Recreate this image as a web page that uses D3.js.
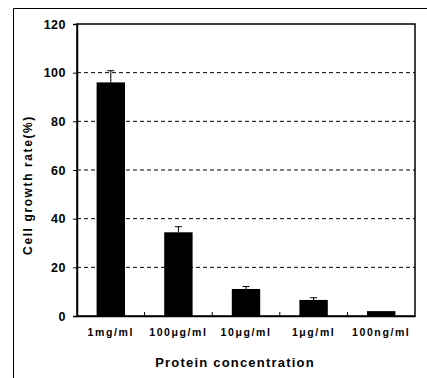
<!DOCTYPE html>
<html>
<head>
<meta charset="utf-8">
<script src="https://cdn.jsdelivr.net/npm/d3@7"></script>
<style>
  body { margin: 0; background: #fff; overflow: hidden; }
  svg { display: block; }
  svg text { font-family: "Liberation Sans", Arial, sans-serif; font-weight: bold; fill: #000; }
</style>
</head>
<body>
<div id="chart"></div>
<script>
// data
const categories = ["1mg/ml", "100\u03bcg/ml", "10\u03bcg/ml", "1\u03bcg/ml", "100ng/ml"];
const growthRate = [96.0, 34.4, 11.1, 6.6, 2.0];
const errors = [4.8, 2.3, 1.0, 0.9, 0];
const yTicks = [0, 20, 40, 60, 80, 100, 120];

const W = 427, H = 378;
const margin = { top: 24, right: 12, bottom: 62, left: 77 };
const width = W - margin.left - margin.right;
const height = H - margin.top - margin.bottom;

const svg = d3.select("#chart").append("svg")
    .attr("width", W)
    .attr("height", H);

// outer frame (left + top only visible)
svg.append("path")
    .attr("d", "M13.5," + H + "V8.5H" + W)
    .attr("fill", "none").attr("stroke", "#000").attr("stroke-width", 1);

const g = svg.append("g")
    .attr("transform", "translate(" + margin.left + "," + margin.top + ")");

const x = d3.scaleBand()
    .domain(categories)
    .range([0, width])
    .paddingInner(0.58)
    .paddingOuter(0.29);

const y = d3.scaleLinear()
    .domain([0, 120])
    .range([height, 0]);

// dashed grid lines
g.selectAll("line.grid")
    .data(yTicks.filter(d => d > 0 && d < 120))
    .enter().append("line")
    .attr("class", "grid")
    .attr("x1", 0).attr("x2", width)
    .attr("y1", d => y(d)).attr("y2", d => y(d))
    .attr("stroke", "#000")
    .attr("stroke-width", 1)
    .attr("stroke-dasharray", "4,3");

// plot frame (top + right)
g.append("rect")
    .attr("x", 0).attr("y", 0)
    .attr("width", width).attr("height", height)
    .attr("fill", "none").attr("stroke", "#000").attr("stroke-width", 1.5);

// bars
g.selectAll("rect.bar")
    .data(growthRate)
    .enter().append("rect")
    .attr("class", "bar")
    .attr("x", (d, i) => x(categories[i]))
    .attr("width", x.bandwidth())
    .attr("y", d => y(d))
    .attr("height", d => height - y(d))
    .attr("fill", "#000");

// error bars (upper only)
const eb = g.selectAll("g.err")
    .data(growthRate.map((d, i) => ({ v: d, e: errors[i], c: categories[i] })).filter(d => d.e > 0))
    .enter().append("g").attr("class", "err");
eb.append("line")
    .attr("x1", d => x(d.c) + x.bandwidth() / 2)
    .attr("x2", d => x(d.c) + x.bandwidth() / 2)
    .attr("y1", d => y(d.v))
    .attr("y2", d => y(d.v + d.e))
    .attr("stroke", "#000").attr("stroke-width", 1);
eb.append("line")
    .attr("x1", d => x(d.c) + x.bandwidth() / 2 - 3.5)
    .attr("x2", d => x(d.c) + x.bandwidth() / 2 + 3.5)
    .attr("y1", d => y(d.v + d.e))
    .attr("y2", d => y(d.v + d.e))
    .attr("stroke", "#000").attr("stroke-width", 1);

// y axis
const yAxis = g.append("g")
    .call(d3.axisLeft(y).tickValues(yTicks).tickSize(4).tickPadding(7));
yAxis.select(".domain").attr("stroke-width", 1.5);
yAxis.selectAll("text").style("font-size", "12.5px").style("letter-spacing", "0.5px");

// x axis: small inward ticks at band boundaries
const xAxis = g.append("g")
    .attr("transform", "translate(0," + height + ")")
    .call(d3.axisBottom(x).tickSize(0).tickPadding(13));
xAxis.select(".domain").attr("stroke-width", 1.5);
xAxis.selectAll("text")
    .style("font-size", "10.5px")
    .style("letter-spacing", "1.6px");

g.selectAll("line.sep")
    .data(categories.slice(1))
    .enter().append("line")
    .attr("class", "sep")
    .attr("x1", d => x(d) - x.step() * x.paddingInner() / 2)
    .attr("x2", d => x(d) - x.step() * x.paddingInner() / 2)
    .attr("y1", height).attr("y2", height - 4)
    .attr("stroke", "#000").attr("stroke-width", 1);

// axis titles
svg.append("text")
    .attr("transform", "rotate(-90)")
    .attr("x", -185)
    .attr("y", 32)
    .style("text-anchor", "middle")
    .style("font-size", "12px")
    .style("letter-spacing", "1.6px")
    .text("Cell growth rate(%)");

svg.append("text")
    .attr("x", 235)
    .attr("y", 367)
    .style("text-anchor", "middle")
    .style("font-size", "13px")
    .style("letter-spacing", "1.2px")
    .text("Protein concentration");
</script>
</body>
</html>
